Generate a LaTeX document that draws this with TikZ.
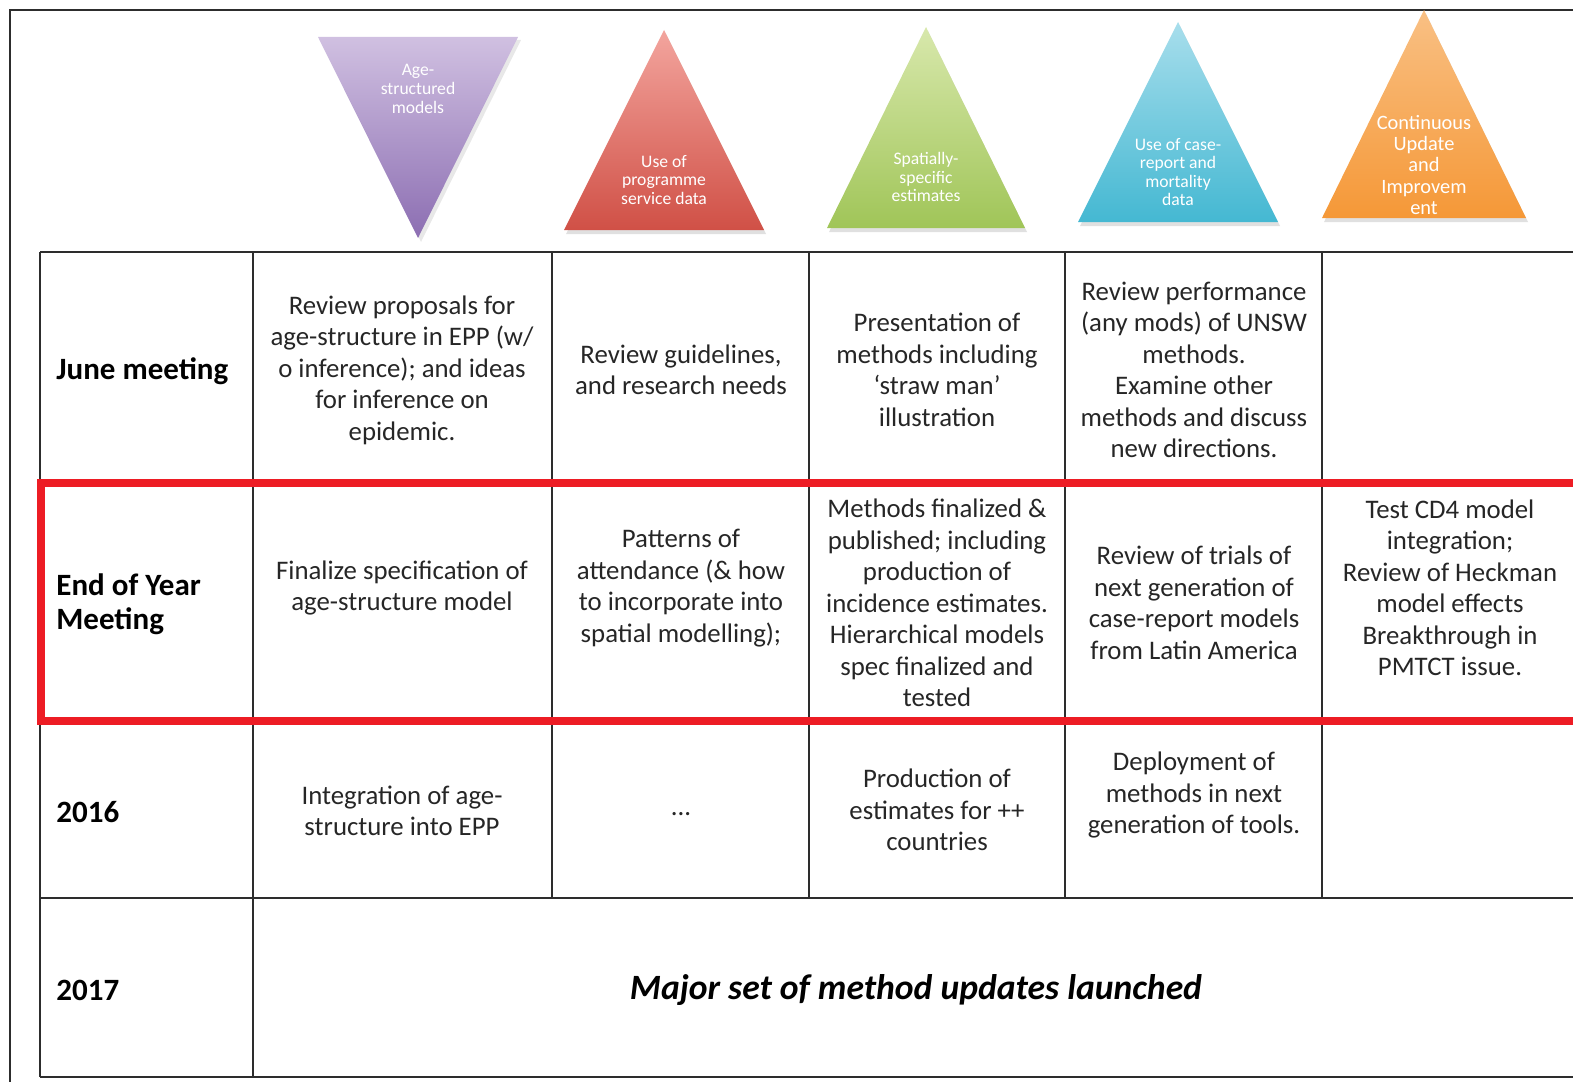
\documentclass[tikz,border=0pt]{standalone}
\usepackage{fontspec}
\setmainfont{Carlito}
\usetikzlibrary{positioning}

\definecolor{gridgray}{RGB}{45,45,45}
\definecolor{boxred}{RGB}{237,28,36}
\definecolor{purpletop}{RGB}{208,192,225}
\definecolor{purplebot}{RGB}{140,110,178}
\definecolor{redtop}{RGB}{243,165,158}
\definecolor{redbot}{RGB}{208,80,70}
\definecolor{greentop}{RGB}{216,232,172}
\definecolor{greenbot}{RGB}{160,197,88}
\definecolor{bluetop}{RGB}{168,222,236}
\definecolor{bluebot}{RGB}{68,184,210}
\definecolor{orangetop}{RGB}{249,192,132}
\definecolor{orangebot}{RGB}{245,152,55}

\tikzset{
  grid/.style={line width=0.9pt, gridgray},
  cell/.style={align=center, inner sep=0pt, text=black!85,
    font=\fontsize{13.4}{15.75}\selectfont},
  rowhead/.style={anchor=west, align=left, inner sep=0pt,
    font=\fontsize{15.5}{17.2}\selectfont\bfseries},
  tritext/.style={align=center, inner sep=0pt, text=white,
    font=\fontsize{8.8}{9.3}\selectfont},
}

\begin{document}
\begin{tikzpicture}[x=0.5pt,y=-0.5pt]
    \useasboundingbox (0,0) rectangle (1573,1081);
    \clip (0,0) rectangle (1573,1081);

    % Outer frame, cut off on the right and at the bottom
    \draw[line width=1.1pt, gridgray] (10,1090) -- (10,10) -- (1590,10);

    % Inverted triangle
    \fill[black!30, opacity=.3] (321,40) -- (521,40) -- (421,242) -- cycle;
    \shade[top color=purpletop, bottom color=purplebot]
        (318,37) -- (518,37) -- (418,238) -- cycle;

    % Upright triangles (loop)
    \foreach \cx/\ty/\by/\hw/\tc/\bc in {664/30/230/100/redtop/redbot,
        926/27/228/99/greentop/greenbot, 1178/22/222/100/bluetop/bluebot,
        1424/10/218/102/orangetop/orangebot}{
        \fill[black!30, opacity=.4]
            ({\cx-\hw+2},{\by+4}) -- ({\cx+\hw+2},{\by+4}) -- ({\cx+2},{\ty+4}) -- cycle;
        \shade[top color=\tc, bottom color=\bc]
            ({\cx-\hw},\by) -- ({\cx+\hw},\by) -- (\cx,\ty) -- cycle;
    }

    % Triangle labels
    \node[tritext] (tAge) at (418,89) {Age-\\structured\\models};
    \node[tritext] (tProg) at (664,180) {Use of\\programme\\service data};
    \node[tritext] (tSpat) at (926,177) {Spatially-\\specific\\estimates};
    \node[tritext] (tCase) at (1178,172) {Use of case-\\report and\\mortality\\data};
    \node[tritext, font=\fontsize{10.2}{10.6}\selectfont] (tCont) at (1424,165)
        {Continuous\\Update\\and\\Improvem\\ent};

    % Table rules
    \foreach \y in {252,481,719,898,1077}
        \draw[grid] (40,\y) -- (1590,\y);
    \draw[grid] (40,252) -- (40,1077);
    \draw[grid] (253,252) -- (253,1077);
    \foreach \x in {552,809,1065,1322}
        \draw[grid] (\x,252) -- (\x,898);

    % Highlighted row
    \draw[line width=4pt, boxred] (41,483) rectangle (1600,721);

    % Row headings
    \node[rowhead] (hJune) at (56,371) {June meeting};
    \node[rowhead] (hEnd) at (56,604) {End of Year\\Meeting};
    \node[rowhead] (hSix) at (56,812) {2016};
    \node[rowhead] (hSeven) at (56,990) {2017};

    % June meeting
    \node[cell] (june1) at (402,370) {Review proposals for\\age-structure in EPP (w/\\o inference); and ideas\\for inference on\\epidemic.};
    \node[cell] (june2) at (681,370) {Review guidelines,\\and research needs};
    \node[cell] (june3) at (937,370) {Presentation of\\methods including\\‘straw man’\\illustration};
    \node[cell] (june4) at (1194,370) {Review performance\\(any mods) of UNSW\\methods.\\Examine other\\methods and discuss\\new directions.};

    % End of year meeting
    \node[cell] (end1) at (402,588) {Finalize specification of\\age-structure model};
    \node[cell] (end2) at (681,588) {Patterns of\\attendance (\& how\\to incorporate into\\spatial modelling);};
    \node[cell] (end3) at (937,603) {Methods finalized \&\\published; including\\production of\\incidence estimates.\\Hierarchical models\\spec finalized and\\tested};
    \node[cell] (end4) at (1194,603) {Review of trials of\\next generation of\\case-report models\\from Latin America};
    \node[cell] (end5) at (1450,588) {Test CD4 model\\integration;\\Review of Heckman\\model effects\\Breakthrough in\\PMTCT issue.};

    % 2016
    \node[cell] (six1) at (402,811) {Integration of age-\\structure into EPP};
    \node[cell] (six2) at (681,814) {...};
    \node[cell] (six3) at (937,810) {Production of\\estimates for ++\\countries};
    \node[cell] (six4) at (1194,795) {Deployment of\\methods in next\\generation of tools.};

    % 2017
    \node[inner sep=0pt, font=\fontsize{17.8}{21}\selectfont\bfseries\itshape]
        (launch) at (916,990) {Major set of method updates launched};

\end{tikzpicture}
\end{document}
